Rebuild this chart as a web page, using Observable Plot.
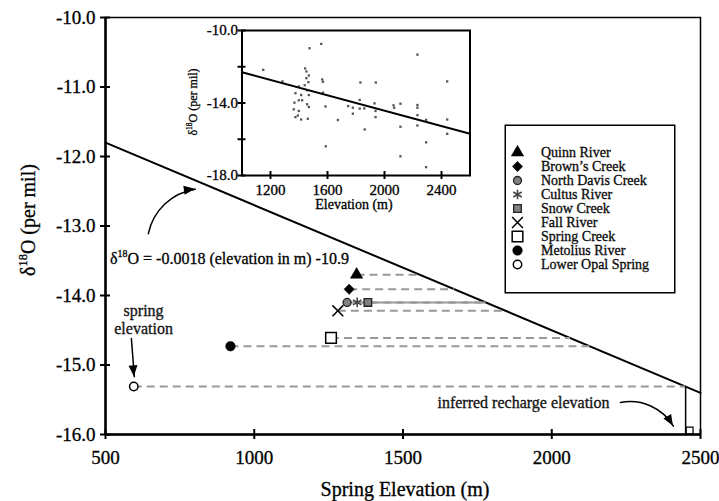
<!DOCTYPE html>
<html><head><meta charset="utf-8">
<script src="https://cdn.jsdelivr.net/npm/d3@7"></script>
<script src="https://cdn.jsdelivr.net/npm/@observablehq/plot@0.6"></script>
<style>
html,body{margin:0;padding:0;background:#fff;}
#wrap{position:relative;width:719px;height:501px;}
#inset{position:absolute;left:180px;top:20px;}
#legend{position:absolute;left:504px;top:124px;}
svg{overflow:visible;}
svg text{stroke:#000;stroke-width:0.3px;}
</style></head><body>
<div id="wrap"><div id="main"></div><div id="inset"></div><div id="legend"></div></div>
<script>
// ---------- data ----------
const springs = ["Quinn River","Brown’s Creek","North Davis Creek","Cultus River","Snow Creek","Fall River","Spring Creek","Metolius River","Lower Opal Spring"];
const springElevation = [1344, 1319, 1312, 1346, 1382, 1281, 1258, 920, 595];
const springD18O = [-13.70, -13.91, -14.10, -14.10, -14.10, -14.22, -14.61, -14.73, -15.31];

const fitSlope = -0.0018;      // from the equation
const fitIntercept = -10.9;

const xTicks = [500, 1000, 1500, 2000, 2500];
const yTicks = [-10, -11, -12, -13, -14, -15, -16];

const insetElevation = [1149,1474,1556,2231,1284,1443,1452,1469,1452,1466,
  1440,1399,1457,1563,1568,1375,1415,1469,1399,1422,
  1368,1457,1469,1363,1399,1375,1415,1462,1392,1586,
  1568,1673,1588,1831,1939,1826,1745,1778,1778,1826,
  1858,1861,1930,1937,1937,2063,2068,2112,2112,2112,
  2231,2231,2231,2231,2292,2292,2292,2440,2440,2440];
const insetD18O = [-12.17,-10.98,-10.74,-11.33,-12.81,-12.09,-12.26,-12.48,-12.63,-12.85,
  -13.02,-13.09,-13.30,-12.70,-12.83,-13.46,-13.56,-13.56,-13.85,-13.85,
  -13.98,-14.07,-14.22,-14.35,-14.44,-14.78,-14.91,-14.87,-14.69,-14.19,
  -13.43,-14.94,-16.39,-12.87,-12.87,-13.83,-14.17,-14.26,-14.59,-14.31,
  -14.30,-15.46,-14.02,-14.44,-14.78,-14.13,-14.26,-14.04,-15.31,-16.94,
  -14.11,-14.26,-14.67,-15.24,-14.93,-16.17,-17.54,-12.81,-14.91,-15.70];
const insetFitElevation = [1000, 2600];
const insetFitD18O = [-12.3, -15.7];
const insetXTicks = [1200, 1600, 2000, 2400];
const insetYTicks = [-10, -12, -14, -16, -18];
const insetYLabels = [-10, -14, -18];

// annotation anchors (data units)
const eqAnchor = {elev: 517, d18o: -13.55};
const arrows = [
  {x1: 644, y1: -13.11, x2: 802, y2: -12.47, bend: 35},
  {x1: 587, y1: -14.62, x2: 597, y2: -15.17, bend: 0},
  {x1: 2231, y1: -15.54, x2: 2409, y2: -15.88, bend: 35}
];
const springLabel = [{elev: 628, d18o: -14.345, text: "spring\nelevation"}];
const rechargeLabel = [{elev: 1905, d18o: -15.54, text: "inferred recharge elevation"}];

// ---------- styles ----------
const serif = '"Liberation Serif","Times New Roman",serif';
const diamond = {draw(ctx, size){ const h = Math.sqrt(size/2); ctx.moveTo(0,-h); ctx.lineTo(h,0); ctx.lineTo(0,h); ctx.lineTo(-h,0); ctx.closePath(); }};
const markerStyle = {
  "Quinn River":       {symbol:"triangle", r:4.6, fill:"black", stroke:"black", strokeWidth:0.5},
  "Brown’s Creek":     {symbol:diamond, r:4.1, fill:"black", stroke:"black", strokeWidth:0.5},
  "North Davis Creek": {symbol:"circle", r:4, fill:"#808080", stroke:"#222", strokeWidth:1.3},
  "Cultus River":      {symbol:"asterisk", r:4.6, fill:"none", stroke:"#444", strokeWidth:1.6},
  "Snow Creek":        {symbol:"square", r:4.3, fill:"#808080", stroke:"#222", strokeWidth:1.3},
  "Fall River":        {symbol:"times", r:5, fill:"none", stroke:"black", strokeWidth:1.5},
  "Spring Creek":      {symbol:"square", r:6, fill:"white", stroke:"black", strokeWidth:1.5},
  "Metolius River":    {symbol:"circle", r:4.8, fill:"black", stroke:"black", strokeWidth:0.5},
  "Lower Opal Spring": {symbol:"circle", r:4.2, fill:"white", stroke:"black", strokeWidth:1.5}
};

// ---------- derived table ----------
const rows = springs.map((name, i) => ({
  name, elev: springElevation[i], d18o: springD18O[i],
  recharge: (springD18O[i] - fitIntercept) / fitSlope
}));
const fitLine = d3.extent(xTicks).map(x => ({x, y: fitSlope * x + fitIntercept}));
const lowerOpal = rows.filter(d => d.name === "Lower Opal Spring");
const insetPts = insetElevation.map((e, i) => ({e, v: insetD18O[i]}));
const insetFit = insetFitElevation.map((e, i) => ({e, v: insetFitD18O[i]}));

// ---------- main chart ----------
const main = Plot.plot({
  width: 719, height: 501,
  marginLeft: 105, marginRight: 19, marginTop: 17, marginBottom: 67,
  style: {fontFamily: serif, background: "white", color: "black"},
  x: {domain: d3.extent(xTicks)},
  y: {domain: d3.extent(yTicks)},
  marks: [
    Plot.axisX({ticks: xTicks, tickSize: 0, tickPadding: 16, fontSize: 19, tickFormat: d => String(d), label: null}),
    Plot.axisY({ticks: yTicks, tickSize: 0, tickPadding: 10, fontSize: 19, tickFormat: d => d.toFixed(1), label: null}),
    Plot.frame({strokeWidth: 1.5}),
    Plot.ruleX([xTicks[0]], {strokeWidth: 2.5}),
    Plot.ruleY([d3.min(yTicks)], {strokeWidth: 2.5}),
    Plot.ruleX(xTicks, {x: d => d, y1: d3.min(yTicks), y2: d3.min(yTicks), insetTop: -5, insetBottom: -5, strokeWidth: 2}),
    Plot.ruleY(yTicks, {y: d => d, x1: xTicks[0], x2: xTicks[0], insetLeft: -5, insetRight: -5, strokeWidth: 2}),
    Plot.line(fitLine, {x: "x", y: "y", strokeWidth: 2}),
    Plot.link(rows, {x1: "elev", x2: "recharge", y1: "d18o", y2: "d18o", stroke: "#999", strokeWidth: 2, strokeDasharray: "8,5"}),
    Plot.ruleX(lowerOpal, {x: "recharge", y1: d3.min(yTicks), y2: "d18o", strokeWidth: 1.5}),
    Plot.dot(lowerOpal, {x: "recharge", y: () => d3.min(yTicks), symbol: "square", r: 3.9, dx: 4, dy: -4, fill: "none", stroke: "black", strokeWidth: 1.2}),
    ...rows.map(d => Plot.dot([d], {x: "elev", y: "d18o", ...markerStyle[d.name]})),
    ...arrows.map(a => Plot.arrow([a], {x1: "x1", y1: "y1", x2: "x2", y2: "y2", bend: a.bend, strokeWidth: 1.5, headLength: 0})),
    Plot.text(springLabel, {x: "elev", y: "d18o", text: "text", fontSize: 16, lineHeight: 1.12, fill: "#222"}),
    Plot.text(rechargeLabel, {x: "elev", y: "d18o", text: "text", fontSize: 16, fill: "#222"})
  ]
});
document.getElementById("main").appendChild(main);

function deltaText(sel, {x, y, size, rotate, anchor, suffix}) {
  const t = sel.append("text").attr("font-family", serif).attr("font-size", size)
    .attr("text-anchor", anchor || "start").attr("fill", "black");
  if (rotate) t.attr("transform", `translate(${x},${y}) rotate(${rotate})`);
  else t.attr("x", x).attr("y", y);
  t.append("tspan").text("δ");
  t.append("tspan").attr("font-size", size * 0.62).attr("dy", -size * 0.42).text("18");
  t.append("tspan").attr("dy", size * 0.42).text(suffix);
  return t;
}
const msvg = d3.select(main);
const sx = main.scale("x"), sy = main.scale("y");
deltaText(msvg, {x: 35, y: 220, size: 20, rotate: -90, anchor: "middle", suffix: "O (per mil)"});
msvg.append("text").attr("x", 405).attr("y", 496).attr("text-anchor", "middle")
  .attr("font-family", serif).attr("font-size", 20).text("Spring Elevation (m)");
deltaText(msvg, {x: sx.apply(eqAnchor.elev), y: sy.apply(eqAnchor.d18o), size: 16, suffix: "O = -0.0018 (elevation in m) -10.9"});

// filled arrowheads at arrow ends
arrows.forEach(a => {
  const X1 = sx.apply(a.x1), Y1 = sy.apply(a.y1), X2 = sx.apply(a.x2), Y2 = sy.apply(a.y2);
  const ang = Math.atan2(Y2 - Y1, X2 - X1) + a.bend * Math.PI / 180;
  const L = 11, W = 4.5;
  const bx = X2 - L * Math.cos(ang), by = Y2 - L * Math.sin(ang);
  const px = -Math.sin(ang) * W, py = Math.cos(ang) * W;
  msvg.append("path").attr("d", `M${X2},${Y2}L${bx + px},${by + py}L${bx - px},${by - py}Z`).attr("fill", "black");
});

// ---------- inset ----------
const inset = Plot.plot({
  width: 300, height: 200,
  marginLeft: 61.5, marginRight: 10.5, marginTop: 10, marginBottom: 45,
  style: {fontFamily: serif, background: "transparent", color: "black"},
  x: {domain: d3.extent(insetFitElevation)},
  y: {domain: d3.extent(insetYTicks)},
  marks: [
    Plot.frame({fill: "white", stroke: "none"}),
    Plot.axisX({ticks: insetXTicks, tickSize: 0, tickPadding: 9, fontSize: 15, tickFormat: d => String(d), label: null}),
    Plot.axisY({ticks: insetYLabels, tickSize: 0, tickPadding: 4, fontSize: 15, tickFormat: d => d.toFixed(1), label: null}),
    Plot.frame({strokeWidth: 2}),
    Plot.ruleX(insetXTicks, {x: d => d, y1: d3.min(insetYTicks), y2: d3.min(insetYTicks), insetTop: -4, insetBottom: -4, strokeWidth: 2}),
    Plot.ruleY(insetYTicks, {y: d => d, x1: insetFitElevation[0], x2: insetFitElevation[0], insetLeft: -4, insetRight: -4, strokeWidth: 2}),
    Plot.dot(insetPts, {x: "e", y: "v", symbol: "square", r: 1.3, fill: "#555"}),
    Plot.line(insetFit, {x: "e", y: "v", strokeWidth: 2})
  ]
});
document.getElementById("inset").appendChild(inset);
const isvg = d3.select(inset);
deltaText(isvg, {x: 17, y: 82, size: 12, rotate: -90, anchor: "middle", suffix: "O (per mil)"});
isvg.append("text").attr("x", 174).attr("y", 189).attr("text-anchor", "middle")
  .attr("font-family", serif).attr("font-size", 14).text("Elevation (m)");

// ---------- legend ----------
const legend = Plot.plot({
  width: 171, height: 169, margin: 0,
  style: {fontFamily: serif, background: "white", color: "black"},
  y: {type: "point", domain: springs, range: [16.7, 151.5], axis: null},
  marks: [
    Plot.frame({strokeWidth: 1.5, inset: 0.75}),
    ...springs.map(name => Plot.dot([name], {y: d => d, frameAnchor: "left", dx: 13, ...markerStyle[name]})),
    Plot.text(springs, {y: d => d, text: d => d, frameAnchor: "left", dx: 36.5, textAnchor: "start", fontSize: 14, fill: "#111"})
  ]
});
document.getElementById("legend").appendChild(legend);
</script>
</body></html>
